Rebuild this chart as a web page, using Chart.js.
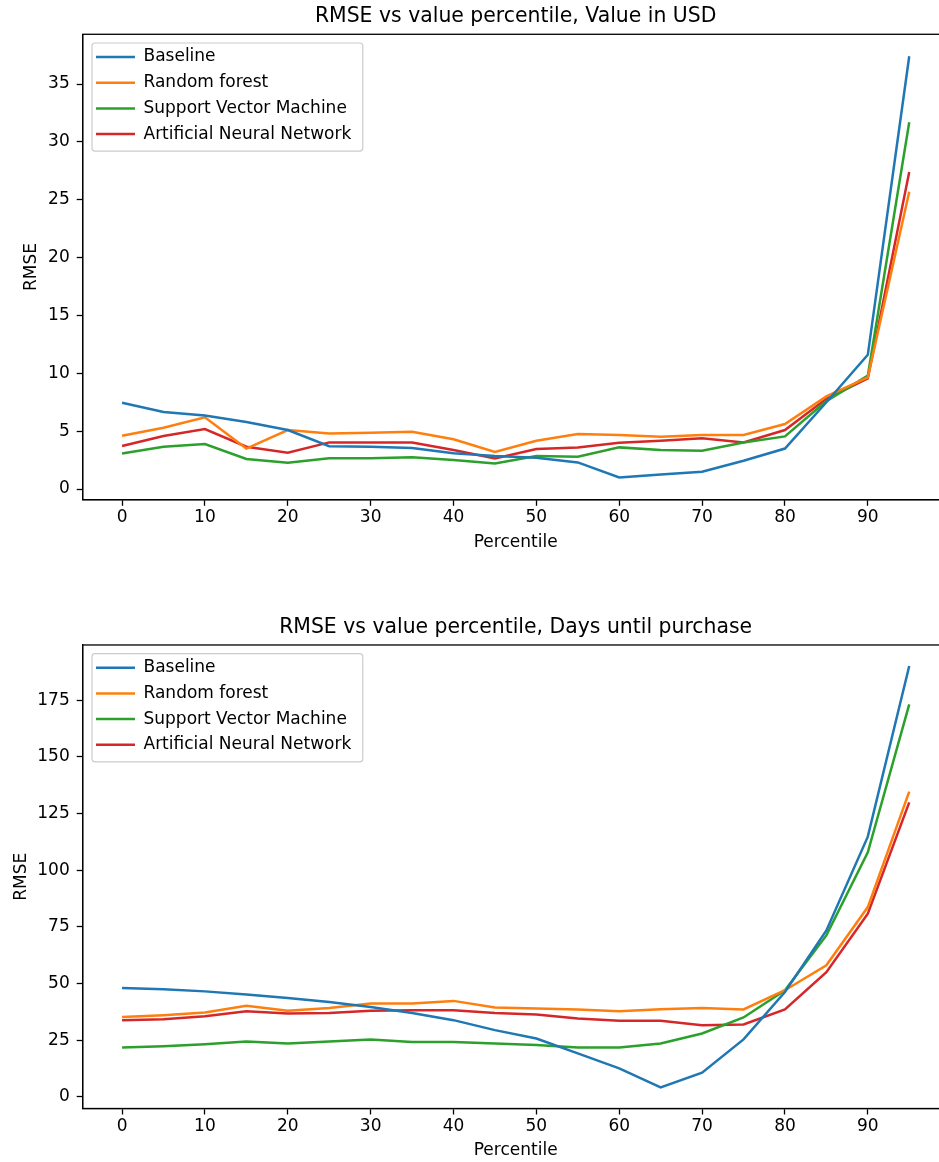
<!DOCTYPE html>
<html>
<head>
<meta charset="utf-8">
<script src="https://cdn.jsdelivr.net/npm/chart.js@4/dist/chart.umd.min.js"></script>
<style>
  html, body { margin: 0; padding: 0; background: #fff; overflow: hidden; }
  canvas { position: absolute; left: 0; }
  #usd-chart { top: 0; }
  #days-chart { top: 565px; }
</style>
</head>
<body>
<canvas id="usd-chart" width="960" height="565"></canvas>
<canvas id="days-chart" width="960" height="597"></canvas>
<script>
// Percentile buckets shared by both plots
const percentiles = [0, 5, 10, 15, 20, 25, 30, 35, 40, 45, 50, 55, 60, 65, 70, 75, 80, 85, 90, 95];
const seriesNames = ['Baseline', 'Random forest', 'Support Vector Machine', 'Artificial Neural Network'];
const seriesColors = ['#1f77b4', '#ff7f0e', '#2ca02c', '#d62728'];

// RMSE, value in USD
const usdBaseline = [7.45, 6.65, 6.35, 5.8, 5.1, 3.7, 3.66, 3.55, 3.1, 2.85, 2.7, 2.3, 1.0, 1.25, 1.5, 2.45, 3.5, 7.5, 11.6, 37.4];
const usdForest   = [4.6, 5.3, 6.2, 3.5, 5.1, 4.8, 4.87, 4.95, 4.3, 3.2, 4.18, 4.75, 4.67, 4.52, 4.67, 4.67, 5.62, 8.0, 9.65, 25.7];
const usdSvm      = [3.08, 3.66, 3.89, 2.6, 2.27, 2.65, 2.65, 2.74, 2.5, 2.2, 2.85, 2.8, 3.6, 3.37, 3.31, 4.03, 4.55, 7.6, 9.8, 31.7];
const usdAnn      = [3.72, 4.58, 5.19, 3.66, 3.14, 4.03, 4.03, 4.03, 3.37, 2.65, 3.46, 3.6, 4.0, 4.18, 4.38, 4.03, 5.1, 7.8, 9.56, 27.4];

// RMSE, days until purchase
const daysBaseline = [48.0, 47.4, 46.5, 45.1, 43.6, 41.8, 39.6, 37.0, 33.8, 29.4, 25.7, 19.1, 12.5, 4.1, 10.6, 25.3, 46.2, 73.4, 114.8, 190.1];
const daysForest   = [35.2, 36.0, 37.2, 40.2, 37.9, 39.2, 41.1, 41.1, 42.3, 39.4, 38.9, 38.5, 37.7, 38.6, 39.2, 38.5, 47.0, 58.0, 83.7, 134.7];
const daysSvm      = [21.7, 22.3, 23.2, 24.4, 23.5, 24.4, 25.3, 24.2, 24.2, 23.5, 22.8, 21.7, 21.7, 23.5, 27.9, 35.0, 47.0, 71.2, 107.9, 173.2];
const daysAnn      = [33.8, 34.2, 35.5, 37.7, 36.7, 37.0, 37.9, 38.2, 38.2, 37.0, 36.3, 34.5, 33.5, 33.5, 31.6, 31.9, 38.5, 55.0, 80.8, 129.9];

const FONT = 'DejaVu Sans';
const INK = '#000';

// Legend frame like matplotlib's, plus top/right spines
const framePlugin = {
  id: 'frame',
  afterLayout(chart) {
    // vertical legends get top reset to 0 in setDimensions, put it back in the plot
    const lg = chart.legend;
    lg.left = chart.chartArea.left + 4.6;
    lg.top = chart.chartArea.top + 5.5;
    lg.bottom = chart.chartArea.bottom;
  },
  afterDraw(chart) {
    const ctx = chart.ctx;
    const area = chart.chartArea;
    ctx.save();
    ctx.strokeStyle = INK;
    ctx.lineWidth = 1.3;
    ctx.strokeRect(area.left, area.top, area.right - area.left, area.bottom - area.top);

    const lg = chart.legend;
    const pad = lg.options.labels.padding;
    const n = lg.legendItems.length;
    const x0 = lg.left + pad - 4;
    const y0 = lg.top + pad - 5.5;
    const w = Math.max(...lg.legendHitBoxes.map((h) => h.width)) + 15.5;
    const h = n * 17 + (n - 1) * pad + 14;
    ctx.strokeStyle = '#cccccc';
    ctx.lineWidth = 1.2;
    ctx.beginPath();
    ctx.roundRect(x0, y0, w, h, 3);
    ctx.stroke();
    ctx.restore();
  }
};

function makeChart(canvasId, title, values, yMin, yMax, yStep, opts) {
  const datasets = values.map((vals, i) => ({
    label: seriesNames[i],
    data: percentiles.map((p, j) => ({ x: p, y: vals[j] })),
    borderColor: seriesColors[i],
    backgroundColor: seriesColors[i],
    borderWidth: 2.5,
    pointRadius: 0,
    tension: 0,
    fill: false
  }));

  return new Chart(document.getElementById(canvasId), {
    type: 'line',
    data: { datasets },
    plugins: [framePlugin],
    options: {
      responsive: false,
      animation: false,
      devicePixelRatio: 1,
      events: [],
      layout: { padding: { top: opts.padTop, right: 11.4, bottom: 0, left: 0 } },
      plugins: {
        title: {
          display: true,
          text: title,
          fullSize: false,
          color: INK,
          font: { family: FONT, size: 20.4, weight: 'normal' },
          padding: { top: 4.5, bottom: 5.3 }
        },
        legend: {
          position: 'chartArea',
          align: 'start',
          labels: {
            usePointStyle: true,
            pointStyle: 'line',
            pointStyleWidth: 39,
            padding: 8.7,
            color: INK,
            font: { family: FONT, size: 17 }
          }
        },
        tooltip: { enabled: false }
      },
      scales: {
        x: {
          type: 'linear',
          min: -4.75,
          max: 99.75,
          afterFit: (scale) => { scale.height = opts.xHeight; },
          ticks: {
            stepSize: 10,
            includeBounds: false,
            padding: 2,
            color: INK,
            font: { family: FONT, size: 17 }
          },
          grid: { drawOnChartArea: false, tickLength: 6, tickColor: INK, tickWidth: 1.3 },
          border: { display: true, color: INK, width: 1.3 },
          title: {
            display: true,
            text: 'Percentile',
            color: INK,
            font: { family: FONT, size: 17 },
            padding: { top: 0, bottom: opts.xTitlePad }
          }
        },
        y: {
          min: yMin,
          max: yMax,
          afterFit: (scale) => { scale.width = 82.7; },
          ticks: {
            stepSize: yStep,
            includeBounds: false,
            padding: 7,
            color: INK,
            font: { family: FONT, size: 17 }
          },
          grid: { drawOnChartArea: false, tickLength: 6, tickColor: INK, tickWidth: 1.3 },
          border: { display: true, color: INK, width: 1.3 },
          title: {
            display: true,
            text: 'RMSE',
            color: INK,
            font: { family: FONT, size: 17 },
            padding: { top: opts.yTitlePad, bottom: 0 }
          }
        }
      }
    }
  });
}

makeChart('usd-chart', 'RMSE vs value percentile, Value in USD',
  [usdBaseline, usdForest, usdSvm, usdAnn], -0.93, 39.3, 5,
  { padTop: 0, xHeight: 65.2, xTitlePad: 12.5, yTitlePad: 21.8 });

makeChart('days-chart', 'RMSE vs value percentile, Days until purchase',
  [daysBaseline, daysForest, daysSvm, daysAnn], -5.2, 199.4, 25,
  { padTop: 45.7, xHeight: 53.5, xTitlePad: 0.8, yTitlePad: 11.3 });
</script>
</body>
</html>
